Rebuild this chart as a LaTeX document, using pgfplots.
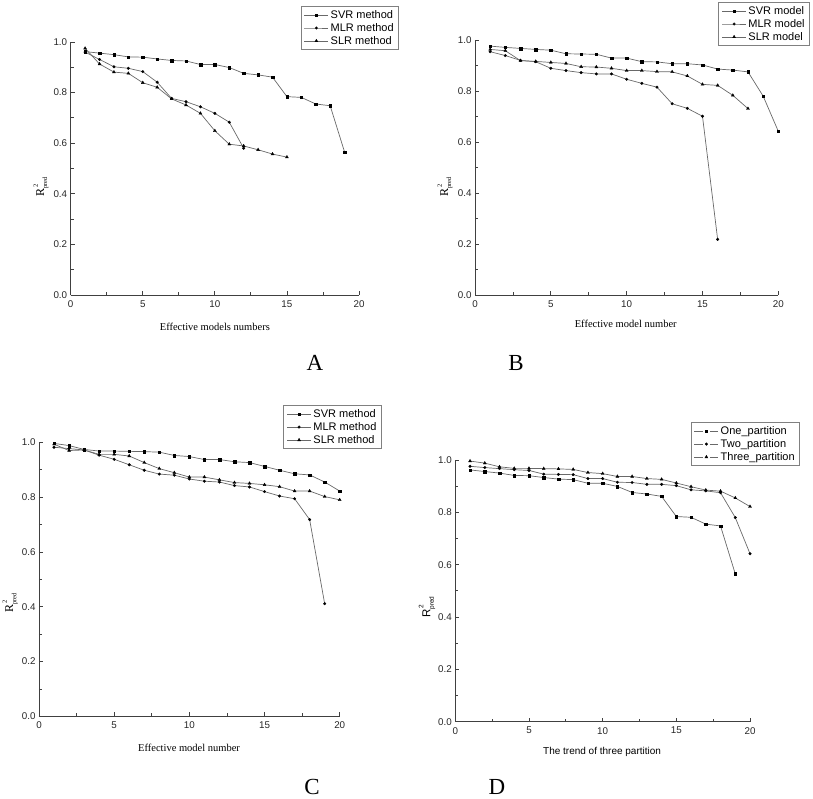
\documentclass[border=0pt]{standalone}
\usepackage{fontspec}
\setmainfont{Liberation Serif}
\setsansfont{Liberation Sans}
\usepackage{pgfplots}
\usepackage{pgfplotstable}
\pgfplotsset{compat=1.18}
\definecolor{linegray}{RGB}{105,105,105}

\pgfplotstableread{
x y
1 0.962
2 0.956
3 0.950
4 0.941
5 0.940
6 0.933
7 0.927
8 0.925
9 0.911
10 0.911
11 0.899
12 0.876
13 0.870
14 0.861
15 0.784
16 0.781
17 0.755
18 0.748
19 0.565
}\svrA
\pgfplotstableread{
x y
1 0.960
2 0.931
3 0.902
4 0.896
5 0.883
6 0.841
7 0.777
8 0.764
9 0.744
10 0.718
11 0.683
12 0.580
}\mlrA
\pgfplotstableread{
x y
1 0.975
2 0.913
3 0.881
4 0.876
5 0.839
6 0.821
7 0.775
8 0.751
9 0.718
10 0.649
11 0.596
12 0.589
13 0.574
14 0.557
15 0.545
}\slrA
\pgfplotstableread{
x y
1 0.976
2 0.971
3 0.967
4 0.963
5 0.960
6 0.946
7 0.945
8 0.944
9 0.929
10 0.929
11 0.915
12 0.914
13 0.907
14 0.907
15 0.902
16 0.886
17 0.882
18 0.875
19 0.780
20 0.642
}\svrB
\pgfplotstableread{
x y
1 0.954
2 0.939
3 0.920
4 0.915
5 0.889
6 0.880
7 0.872
8 0.867
9 0.867
10 0.846
11 0.830
12 0.815
13 0.750
14 0.732
15 0.701
16 0.218
}\mlrB
\pgfplotstableread{
x y
1 0.963
2 0.958
3 0.919
4 0.916
5 0.912
6 0.908
7 0.895
8 0.894
9 0.889
10 0.880
11 0.880
12 0.876
13 0.875
14 0.859
15 0.826
16 0.822
17 0.783
18 0.731
}\slrB
\pgfplotstableread{
x y
1 0.996
2 0.988
3 0.974
4 0.968
5 0.968
6 0.967
7 0.966
8 0.964
9 0.952
10 0.948
11 0.937
12 0.937
13 0.929
14 0.926
15 0.912
16 0.898
17 0.885
18 0.881
19 0.855
20 0.822
}\svrC
\pgfplotstableread{
x y
1 0.982
2 0.977
3 0.972
4 0.953
5 0.938
6 0.918
7 0.898
8 0.884
9 0.880
10 0.866
11 0.858
12 0.855
13 0.842
14 0.837
15 0.820
16 0.804
17 0.794
18 0.718
19 0.411
}\mlrC
\pgfplotstableread{
x y
1 0.993
2 0.970
3 0.972
4 0.956
5 0.956
6 0.950
7 0.926
8 0.904
9 0.889
10 0.873
11 0.873
12 0.863
13 0.853
14 0.850
15 0.845
16 0.838
17 0.822
18 0.822
19 0.802
20 0.790
}\slrC

\newcommand{\Rpred}{R\rlap{\raisebox{1.15ex}{\fontsize{6.5}{6.5}\selectfont\,2}}\raisebox{-0.55ex}{\fontsize{6.5}{6.5}\selectfont pred}}

\pgfplotsset{
  panel/.style={
    scale only axis,
    xmin=0, xmax=20, ymin=0, ymax=1,
    xtick={0,5,10,15,20},
    ytick={0,0.2,0.4,0.6,0.8,1},
    minor x tick num=1, minor y tick num=1,
    tick align=inside,
    axis x line*=bottom, axis y line*=left,
    axis line style={-, line width=0.9pt, black!75},
    major tick length=4pt, minor tick length=3pt,
    every tick/.style={black!75, line width=0.8pt},
    clip=false,
    /pgf/number format/assume math mode=true,
    tick label style={font=\sffamily\fontsize{9.8}{11}\selectfont, text=black!85},
    xticklabel style={yshift=-2pt},
    yticklabel style={/pgf/number format/.cd, fixed, fixed zerofill, precision=1},
    legend cell align=left,
    legend style={draw=black!50, line width=0.6pt, fill=white,
      font=\sffamily\fontsize{11}{13}\selectfont, anchor=north east,
      inner xsep=3pt, inner ysep=2pt, row sep=-0.5pt},
    legend image code/.code={\draw[mark repeat=2,mark phase=2,#1] plot coordinates {(0pt,0pt) (12pt,0pt) (24pt,0pt)};},
    every axis plot/.append style={line width=0.7pt, color=linegray,
      mark options={solid, fill=black, draw=black, line width=0.3pt}},
  },
  svr/.style={mark=square*, mark size=1.25pt},
  mlr/.style={mark=*, mark size=1.35pt},
  slr/.style={mark=triangle*, mark size=1.75pt},
}

\begin{document}
\begin{tikzpicture}
\path[use as bounding box] (0pt,0pt) rectangle (813pt,798pt);

% ---------------- A ----------------
\begin{axis}[panel, at={(70.7pt,503pt)}, anchor=south west,
  width=288.3pt, height=253pt,
  xlabel={Effective models numbers}, ylabel={\Rpred},
  xlabel style={at={(axis description cs:0.5,-0.126)}, anchor=center, font=\rmfamily\fontsize{10.5}{12}\selectfont},
  ylabel style={at={(axis description cs:-0.103,0.427)}, anchor=center, font=\rmfamily\fontsize{12}{14}\selectfont},
  legend style={at={(axis description cs:1.1387,1.1423)}}]
\addplot[svr] table {\svrA};
\addplot[mlr] table {\mlrA};
\addplot[slr] table {\slrA};
\legend{SVR method, MLR method, SLR method}
\end{axis}

% ---------------- B ----------------
\begin{axis}[panel, at={(475pt,503pt)}, anchor=south west,
  width=303.3pt, height=255pt,
  xlabel={Effective model number}, ylabel={\Rpred},
  xlabel style={at={(axis description cs:0.497,-0.114)}, anchor=center, font=\rmfamily\fontsize{10.5}{12}\selectfont},
  ylabel style={at={(axis description cs:-0.099,0.424)}, anchor=center, font=\rmfamily\fontsize{12}{14}\selectfont},
  legend style={at={(axis description cs:1.1045,1.149)}}]
\addplot[svr] table {\svrB};
\addplot[mlr] table {\mlrB};
\addplot[slr] table {\slrB};
\legend{SVR model, MLR model, SLR model}
\end{axis}

% ---------------- C ----------------
\begin{axis}[panel, at={(39pt,81.7pt)}, anchor=south west,
  width=300.7pt, height=274pt,
  xlabel={Effective model number}, ylabel={\Rpred},
  xlabel style={at={(axis description cs:0.499,-0.116)}, anchor=center, font=\rmfamily\fontsize{10.5}{12}\selectfont},
  ylabel style={at={(axis description cs:-0.096,0.413)}, anchor=center, font=\rmfamily\fontsize{12}{14}\selectfont},
  legend style={at={(axis description cs:1.1397,1.136)}}]
\addplot[svr] table {\svrC};
\addplot[mlr] table {\mlrC};
\addplot[slr] table {\slrC};
\legend{SVR method, MLR method, SLR method}
\end{axis}

% ---------------- D ----------------
\begin{axis}[panel, at={(455.3pt,76.3pt)}, anchor=south west,
  width=294.7pt, height=261.7pt,
  xlabel={The trend of three partition}, ylabel={\Rpred},
  xlabel style={at={(axis description cs:0.498,-0.116)}, anchor=center, font=\sffamily\fontsize{10}{12}\selectfont},
  ylabel style={at={(axis description cs:-0.096,0.438)}, anchor=center, font=\sffamily\fontsize{11.5}{13}\selectfont},
  legend style={at={(axis description cs:1.1697,1.145)}},
  legend image code/.code={\draw[#1,mark=none] (0pt,0pt)--(8.5pt,0pt) (15.5pt,0pt)--(24pt,0pt); \draw[#1] plot coordinates {(12pt,0pt)};}]
\addplot[svr] table {\svrA};
\addplot[mlr] table {\svrB};
\addplot[slr] table {\svrC};
\legend{One\_partition, Two\_partition, Three\_partition}
\end{axis}

\node[anchor=base, inner sep=0pt, font=\rmfamily\fontsize{23}{25}\selectfont] at (315pt,427.5pt) {A};
\node[anchor=base, inner sep=0pt, font=\rmfamily\fontsize{23}{25}\selectfont] at (516pt,427pt) {B};
\node[anchor=base, inner sep=0pt, font=\rmfamily\fontsize{23}{25}\selectfont] at (312pt,4pt) {C};
\node[anchor=base, inner sep=0pt, font=\rmfamily\fontsize{23}{25}\selectfont] at (497pt,4pt) {D};
\end{tikzpicture}
\end{document}
